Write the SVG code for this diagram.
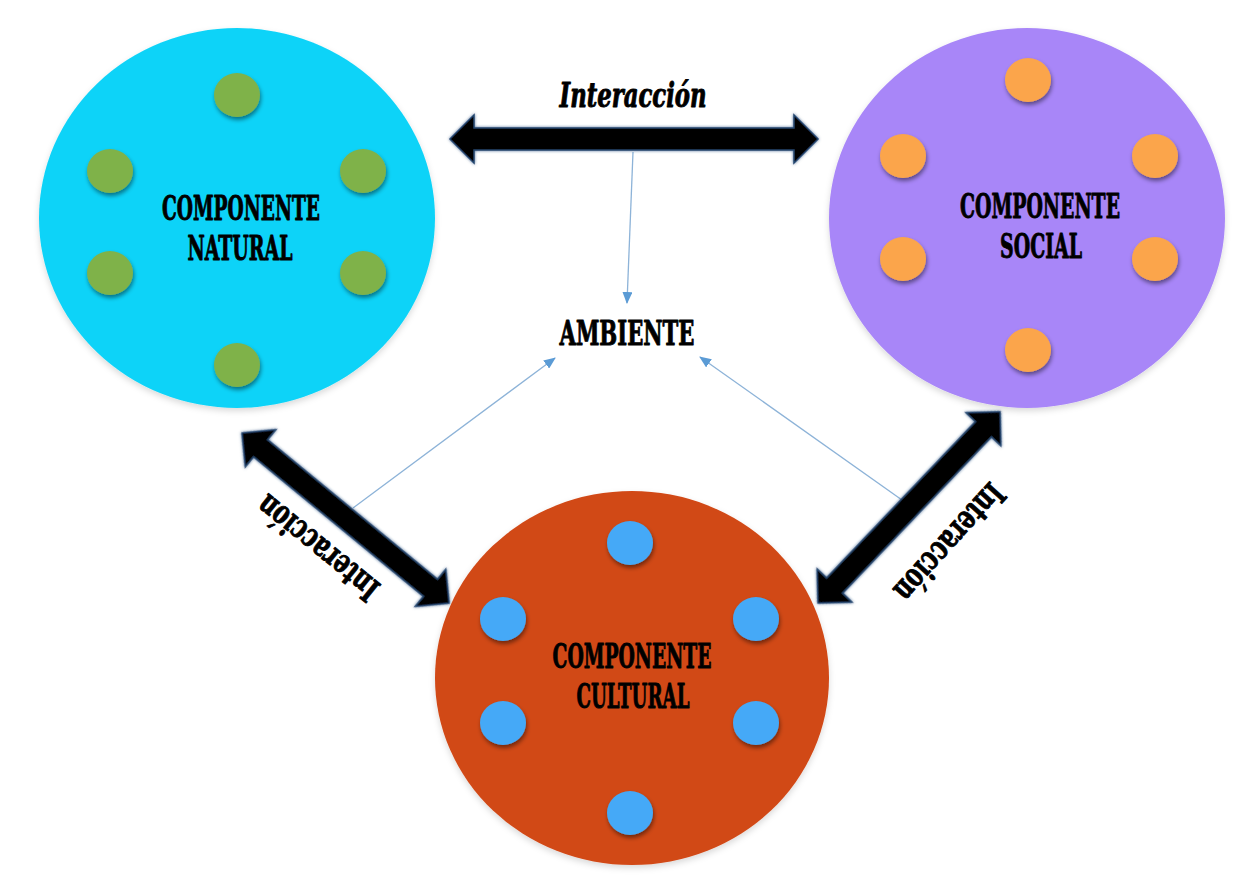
<svg xmlns="http://www.w3.org/2000/svg" width="1256" height="886" viewBox="0 0 1256 886">
  <defs>
    <filter id="dot-shadow" x="-40%" y="-40%" width="180%" height="190%">
      <feDropShadow dx="1" dy="3" stdDeviation="2" flood-color="#000" flood-opacity="0.45"/>
    </filter>
    <filter id="big-shadow" x="-10%" y="-10%" width="120%" height="125%">
      <feDropShadow dx="0" dy="3" stdDeviation="3" flood-color="#000" flood-opacity="0.15"/>
    </filter>
    <filter id="arrow-glow" x="-10%" y="-50%" width="120%" height="200%">
      <feDropShadow dx="0" dy="0" stdDeviation="1.6" flood-color="#3b5f8a" flood-opacity="0.9"/>
    </filter>
    <marker id="thin-head" viewBox="0 0 12 10" refX="11" refY="5" markerWidth="12" markerHeight="10" markerUnits="userSpaceOnUse" orient="auto">
      <path d="M0,0 L12,5 L0,10 Z" fill="#5b9bd5"/>
    </marker>
  </defs>
  <style>
    .lbl { font-family: "DejaVu Serif", "Liberation Serif", serif; font-stretch: condensed; font-weight: bold; fill: #000; stroke: #000; stroke-width: 0.9; stroke-linejoin: round; }
    .big { font-size: 34px; }
    .dot { filter: url(#dot-shadow); }
    .green { fill: #7fb24a; }
    .orange { fill: #fba54c; }
    .blue { fill: #45a9f7; }
    .thin { stroke: #8db3d8; stroke-width: 1.3; fill: none; marker-end: url(#thin-head); }
    .fat { fill: #000; stroke: #23456e; stroke-width: 1.5; filter: url(#arrow-glow); }
  </style>

  <rect width="1256" height="886" fill="#ffffff"/>

  <g id="connectors">
    <line class="thin" x1="633" y1="152" x2="627" y2="303"/>
    <line class="thin" x1="353" y1="508" x2="555" y2="358"/>
    <line class="thin" x1="902" y1="500" x2="700" y2="357"/>
    <path class="fat" transform="translate(450,139)" d="M0,0 L24,-24 L24,-11 L344,-11 L344,-24 L368,0 L344,24 L344,11 L24,11 L24,24 Z"/>
    <path class="fat" transform="translate(242,433) rotate(39.4)" d="M0,0 L24,-24 L24,-11 L244,-11 L244,-24 L268,0 L244,24 L244,11 L24,11 L24,24 Z"/>
    <path class="fat" transform="translate(818,603) rotate(-46.4)" d="M0,0 L24,-24 L24,-11 L240,-11 L240,-24 L264,0 L240,24 L240,11 L24,11 L24,24 Z"/>
    <text class="lbl" font-style="italic" font-size="33" x="633" y="107" text-anchor="middle" textLength="147" lengthAdjust="spacingAndGlyphs">Interacción</text>
    <text class="lbl" font-size="33" transform="translate(325,539) rotate(219)" text-anchor="middle" textLength="147" lengthAdjust="spacingAndGlyphs">Interacción</text>
    <text class="lbl" font-size="33" transform="translate(941,535) rotate(132)" text-anchor="middle" textLength="147" lengthAdjust="spacingAndGlyphs">Interacción</text>
  </g>

  <g id="natural">
    <ellipse cx="237" cy="218" rx="198" ry="190" fill="#0cd3f8" filter="url(#big-shadow)"/>
    <ellipse class="dot green" cx="237" cy="95" rx="23" ry="22"/>
    <ellipse class="dot green" cx="110" cy="171" rx="23" ry="22"/>
    <ellipse class="dot green" cx="363" cy="171" rx="23" ry="22"/>
    <ellipse class="dot green" cx="110" cy="273" rx="23" ry="22"/>
    <ellipse class="dot green" cx="363" cy="273" rx="23" ry="22"/>
    <ellipse class="dot green" cx="237" cy="365" rx="23" ry="22"/>
    <text class="lbl big" x="241" y="220" text-anchor="middle" textLength="158" lengthAdjust="spacingAndGlyphs">COMPONENTE</text>
    <text class="lbl big" x="240" y="260" text-anchor="middle" textLength="105" lengthAdjust="spacingAndGlyphs">NATURAL</text>
  </g>

  <g id="social">
    <ellipse cx="1027" cy="218" rx="198" ry="190" fill="#a886f8" filter="url(#big-shadow)"/>
    <ellipse class="dot orange" cx="1028" cy="80" rx="23" ry="22"/>
    <ellipse class="dot orange" cx="903" cy="156" rx="23" ry="22"/>
    <ellipse class="dot orange" cx="1155" cy="156" rx="23" ry="22"/>
    <ellipse class="dot orange" cx="903" cy="259" rx="23" ry="22"/>
    <ellipse class="dot orange" cx="1155" cy="259" rx="23" ry="22"/>
    <ellipse class="dot orange" cx="1028" cy="350" rx="23" ry="22"/>
    <text class="lbl big" x="1040" y="218" text-anchor="middle" textLength="160" lengthAdjust="spacingAndGlyphs">COMPONENTE</text>
    <text class="lbl big" x="1041" y="258" text-anchor="middle" textLength="82" lengthAdjust="spacingAndGlyphs">SOCIAL</text>
  </g>

  <g id="cultural">
    <ellipse cx="632" cy="678" rx="197" ry="187" fill="#d14816" filter="url(#big-shadow)"/>
    <ellipse class="dot blue" cx="630" cy="543" rx="23" ry="22"/>
    <ellipse class="dot blue" cx="503" cy="619" rx="23" ry="22"/>
    <ellipse class="dot blue" cx="756" cy="619" rx="23" ry="22"/>
    <ellipse class="dot blue" cx="503" cy="723" rx="23" ry="22"/>
    <ellipse class="dot blue" cx="756" cy="723" rx="23" ry="22"/>
    <ellipse class="dot blue" cx="630" cy="813" rx="23" ry="22"/>
    <text class="lbl big" x="632" y="668" text-anchor="middle" textLength="159" lengthAdjust="spacingAndGlyphs">COMPONENTE</text>
    <text class="lbl big" x="633" y="708" text-anchor="middle" textLength="113" lengthAdjust="spacingAndGlyphs">CULTURAL</text>
  </g>

  <g id="ambiente">
    <text class="lbl" font-size="33" x="627" y="345" text-anchor="middle" textLength="135" lengthAdjust="spacingAndGlyphs">AMBIENTE</text>
  </g>
</svg>
